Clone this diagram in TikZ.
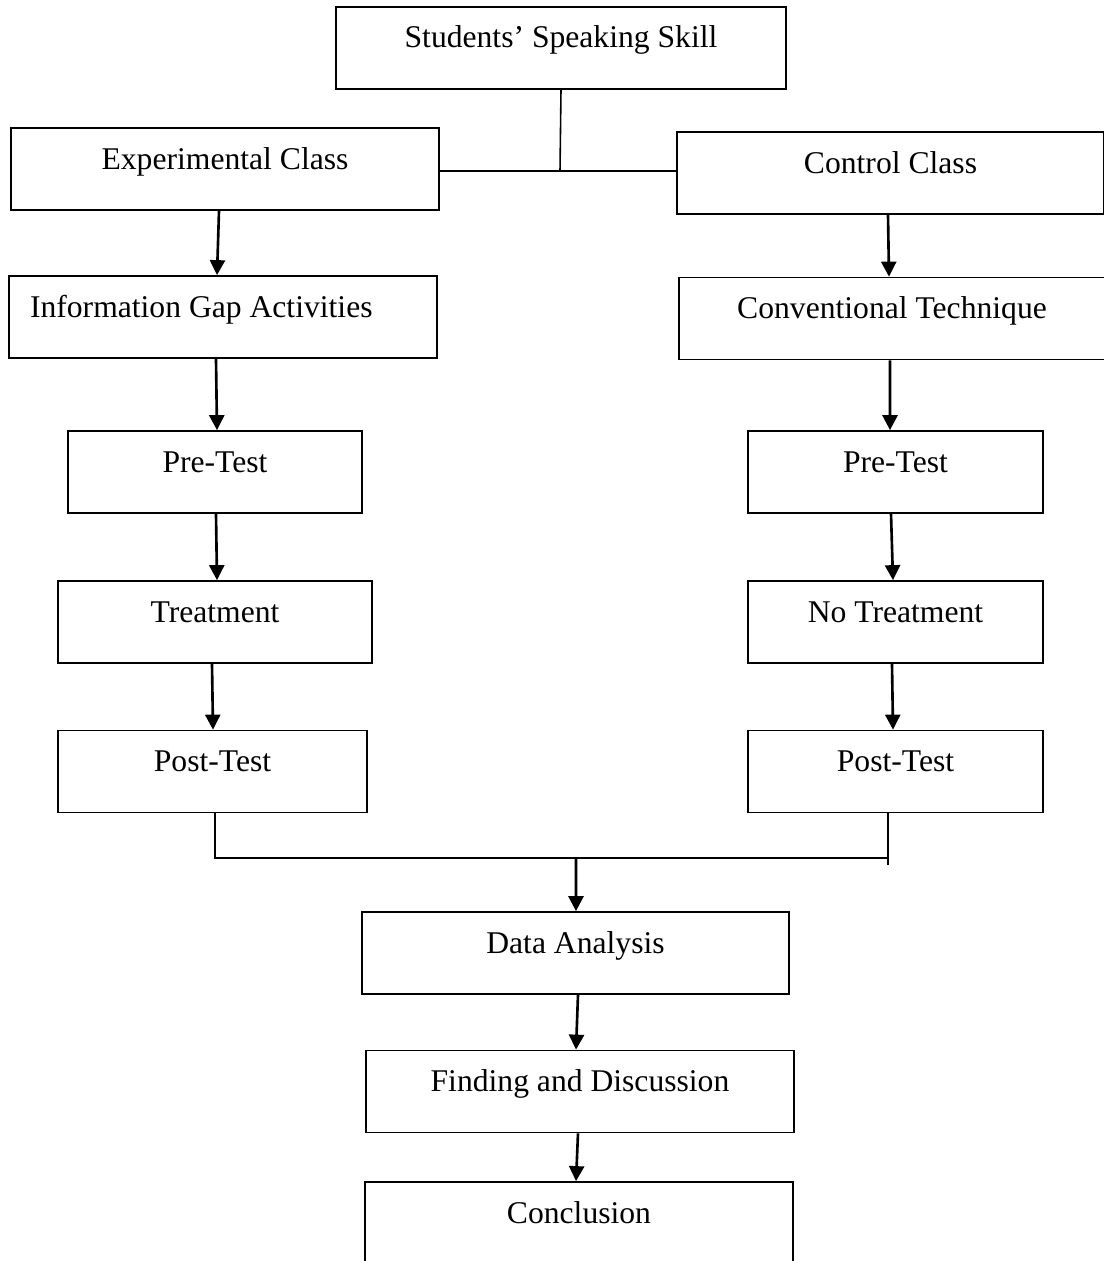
\documentclass[tikz,border=0pt]{standalone}
\usepackage{fontspec}
\setmainfont{Liberation Serif}
\usetikzlibrary{arrows.meta}

\begin{document}
\begin{tikzpicture}[x=0.02cm, y=-0.02cm,
    box/.style={draw, line width=1pt, inner sep=0pt, minimum width=#1,
      text height=0.82cm, text depth=0.82cm, font=\fontsize{18}{21}\selectfont},
    arr/.style={line width=1.5pt, -{Triangle[length=0.3cm, width=0.3cm]}},
    link/.style={line width=0.9pt}]
        \useasboundingbox (0,0) rectangle (1103,1261);
        \node[box=9cm] (skill) at (561,48) {Students’ Speaking Skill};
        \node[box=8.56cm] (exp) at (225,169) {Experimental Class};
        \node[box=8.54cm] (ctrl) at (890.5,173) {Control Class};
        \node[box=8.56cm, inner xsep=0.42cm, text width=7.72cm, align=flush left] (info) at (223,317) {Information Gap Activities};
        \node[box=8.52cm] (conv) at (892,318.5) {Conventional Technique};
        \node[box=5.88cm] (preL) at (215,472) {Pre-Test};
        \node[box=5.9cm] (preR) at (895.5,472) {Pre-Test};
        \node[box=6.28cm] (treat) at (215,622) {Treatment};
        \node[box=5.9cm] (notreat) at (895.5,622) {No Treatment};
        \node[box=6.18cm] (postL) at (212.5,771.5) {Post-Test};
        \node[box=5.9cm] (postR) at (895.5,771.5) {Post-Test};
        \node[box=8.54cm] (data) at (575.5,953) {Data Analysis};
        \node[box=8.56cm] (find) at (580,1091.5) {Finding and Discussion};
        \node[box=8.56cm] (concl) at (579,1223) {Conclusion};
        \coordinate (split) at (560,171);
        \draw[link] (skill.south) -- (split);
        \draw[link] (exp.east |- split) -- (ctrl.west |- split);
        \draw[arr] ([xshift=-0.12cm]exp.south) -- ([xshift=-0.12cm]info.north);
        \draw[arr] ([xshift=-0.05cm]ctrl.south) -- ([xshift=-0.06cm]conv.north);
        \draw[arr] ([xshift=-0.14cm]info.south) -- ([xshift=0.04cm]preL.north);
        \draw[arr] ([xshift=-0.04cm]conv.south) -- ([xshift=-0.11cm]preR.north);
        \draw[arr] ([xshift=0.02cm]preL.south) -- ([xshift=0.04cm]treat.north);
        \draw[arr] ([xshift=-0.09cm]preR.south) -- ([xshift=-0.05cm]notreat.north);
        \draw[arr] ([xshift=-0.06cm]treat.south) -- ([xshift=0.01cm]postL.north);
        \draw[arr] ([xshift=-0.07cm]notreat.south) -- ([xshift=-0.05cm]postR.north);
        \coordinate (join) at (576,858);
        \coordinate (rdrop) at ([xshift=-0.15cm]postR.south);
        \draw[link] ([xshift=0.05cm]postL.south) |- (rdrop |- join);
        \draw[link] (rdrop) -- ++(0,52);
        \draw[arr] (join) -- ([xshift=0.01cm]data.north);
        \draw[arr] ([xshift=0.05cm]data.south) -- ([xshift=-0.08cm]find.north);
        \draw[arr] ([xshift=-0.04cm]find.south) -- ([xshift=-0.06cm]concl.north);
      \end{tikzpicture}
\end{document}
